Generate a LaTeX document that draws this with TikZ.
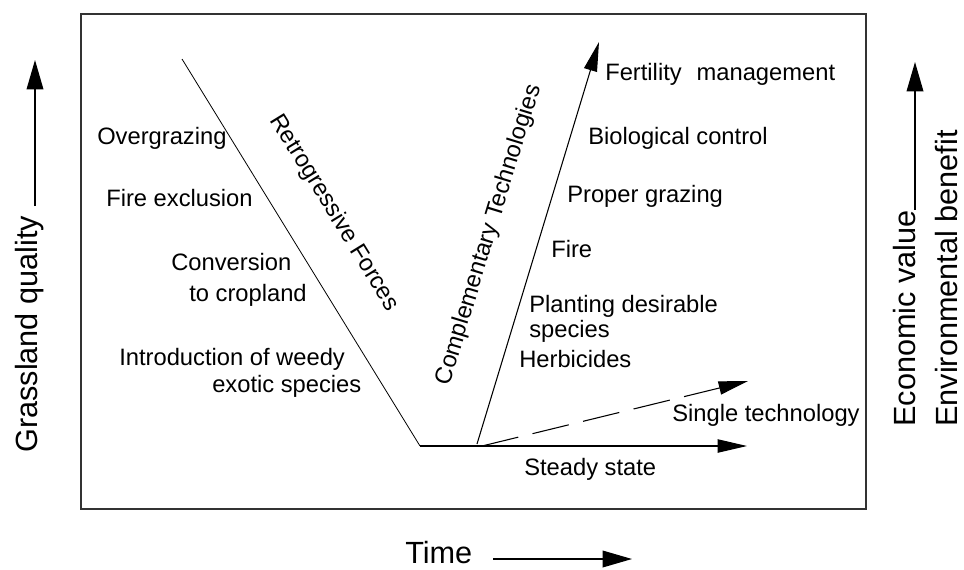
\documentclass[tikz,border=0pt]{standalone}
\usepackage{fontspec}
\setmainfont{Liberation Sans}
\usetikzlibrary{arrows.meta}
\tikzset{
  lbl/.style={font=\fontsize{17.8}{21}\selectfont, inner sep=0pt, anchor=base west},
  slanted/.style={font=\fontsize{17.8}{21}\selectfont, inner sep=0pt},
  axislbl/.style={font=\fontsize{23}{27}\selectfont, inner sep=0pt, anchor=base west, rotate=90},
  timelbl/.style={font=\fontsize{23}{27}\selectfont, inner sep=0pt, anchor=base west},
  trend/.style={line width=0.6pt},
  arrow/.style={line width=0.8pt, -{Triangle[length=22pt,width=10pt]}},
  dasharrow/.style={line width=0.8pt, dash pattern=on 28pt off 11pt, -{Triangle[length=22pt,width=10pt]}},
  axisarrow/.style={line width=1pt, -{Triangle[length=22pt,width=12.5pt]}}
}

\begin{document}
\begin{tikzpicture}[x=0.75pt, y=-0.75pt]
\useasboundingbox (0,0) rectangle (964,569);

% Frame
\draw[line width=1.2pt, black!80] (81,14) rectangle (866,509);

% Trend lines
\coordinate (top) at (182,59);
\coordinate (low) at (420,446);
\coordinate (steady) at (747,446);
\coordinate (ctail) at (477,444);
\coordinate (ctip) at (599,42);
\coordinate (stail) at (482,446);
\coordinate (stip) at (748,381);

\draw[trend] (top) -- (low);
\draw[arrow] (low) -- (steady);
\draw[arrow] (ctail) -- (ctip);
\draw[dasharrow] (stail) -- (stip);

% Slanted titles
\node[slanted, rotate=-58.4] (retro) at (334,213) {Retrogressive Forces};
\node[slanted, rotate=73] (compl) at (489,235) {Complementary Technologies};

% Retrogressive forces
\node[lbl] (over) at (97,144) {Overgrazing};
\node[lbl] (fireex) at (106,206) {Fire exclusion};
\node[lbl] (conv) at (171,270) {Conversion};
\node[lbl] (crop) at (189,301) {to cropland};
\node[lbl] (intro) at (119,365) {Introduction of weedy};
\node[lbl] (exotic) at (212,392) {exotic species};

% Complementary technologies
\node[lbl] (fert) at (605,80) {Fertility\hspace{0.35em} management};
\node[lbl] (bio) at (588,144) {Biological control};
\node[lbl] (proper) at (567,202) {Proper grazing};
\node[lbl] (fire) at (551,257) {Fire};
\node[lbl] (plant) at (529,312) {Planting desirable};
\node[lbl] (spec) at (529,337) {species};
\node[lbl] (herb) at (519,367) {Herbicides};
\node[lbl] (single) at (672,421) {Single technology};
\node[lbl] (state) at (524,475) {Steady state};

% Axes
\node[axislbl] (gq) at (37,453) {Grassland quality};
\coordinate (gqtip) at (35,60);
\draw[axisarrow, shorten <=7pt] (gq.base east -| gqtip) -- (gqtip);

\node[axislbl] (ev) at (915,427) {Economic value};
\node[axislbl] (eb) at (957,427) {Environmental benefit};
\coordinate (evtip) at (915,62);
\draw[axisarrow] (ev.base east -| evtip) -- (evtip);

\node[timelbl] (time) at (405,563) {Time};
\coordinate (ttail) at (493,559);
\coordinate (ttip) at (632,559);
\draw[axisarrow] (ttail) -- (ttip);

\end{tikzpicture}
\end{document}
